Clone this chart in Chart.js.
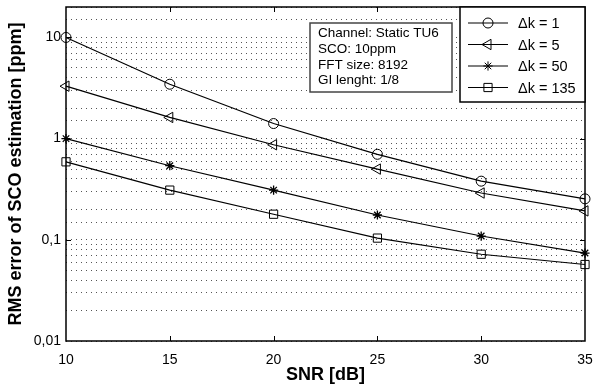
<!DOCTYPE html>
<html lang="en">
<head>
<meta charset="UTF-8">
<title>RMS error of SCO estimation</title>
<script src="https://cdn.jsdelivr.net/npm/chart.js@4.4.0/dist/chart.umd.min.js"></script>
<style>
  body { margin: 0; background: #fff; }
  canvas { display: block; }
</style>
</head>
<body>
<canvas id="scoChart" width="594" height="390"></canvas>
<script>
// SNR points in dB
const snr = [10, 15, 20, 25, 30, 35];

// RMS error of the SCO estimate [ppm], one array per pilot spacing
const dk1 = [10, 3.45, 1.41, 0.70, 0.38, 0.254];
const dk5 = [3.3, 1.62, 0.87, 0.50, 0.29, 0.193];
const dk50 = [1.0, 0.54, 0.31, 0.176, 0.109, 0.074];
const dk135 = [0.59, 0.31, 0.179, 0.104, 0.072, 0.057];

const seriesLabels = ['Δk = 1', 'Δk = 5', 'Δk = 50', 'Δk = 135'];
const xTicks = [10, 15, 20, 25, 30, 35];
const yTickValues = [0.01, 0.1, 1, 10];
const yTickText = ['0,01', '0,1', '1', '10'];
const infoLines = ['Channel: Static TU6', 'SCO: 10ppm', 'FFT size: 8192', 'GI lenght: 1/8'];

const FONT = "'Liberation Sans', Arial, Helvetica, sans-serif";

const series = [dk1, dk5, dk50, dk135];
const markerStyle = ['circle', 'triangle', 'star', 'rect'];
const markerRot = [0, -90, 0, 0];
const markerSize = [5, 6, 4.6, 5.8];

// frame, inward ticks, info box and legend
const overlay = {
    id: 'overlay',
    afterDraw(chart) {
        const ctx = chart.ctx;
        const ca = chart.chartArea;
        const xs = chart.scales.x, ys = chart.scales.y;
        ctx.save();

        ctx.strokeStyle = '#000';
        ctx.lineWidth = 1;
        ctx.beginPath();
        xTicks.slice(1, -1).forEach(v => {
            const px = Math.round(xs.getPixelForValue(v)) + 0.5;
            ctx.moveTo(px, ca.bottom); ctx.lineTo(px, ca.bottom - 5);
            ctx.moveTo(px, ca.top); ctx.lineTo(px, ca.top + 5);
        });
        yTickValues.slice(1).forEach(v => {
            const py = Math.round(ys.getPixelForValue(v)) + 0.5;
            ctx.moveTo(ca.left, py); ctx.lineTo(ca.left + 5, py);
            ctx.moveTo(ca.right, py); ctx.lineTo(ca.right - 5, py);
        });
        ctx.stroke();

        ctx.lineWidth = 1.5;
        ctx.strokeRect(ca.left, ca.top, ca.right - ca.left, ca.bottom - ca.top);

        // parameter box
        const bx = 310, by = 23, bw = 142, bh = 69;
        ctx.fillStyle = '#fff';
        ctx.fillRect(bx, by, bw, bh);
        ctx.strokeStyle = '#444';
        ctx.lineWidth = 1.5;
        ctx.strokeRect(bx, by, bw, bh);
        ctx.fillStyle = '#000';
        ctx.font = '13.5px ' + FONT;
        ctx.textBaseline = 'middle';
        ctx.textAlign = 'left';
        infoLines.forEach((t, i) => ctx.fillText(t, bx + 8, by + 10.5 + i * 15.7));

        // legend
        const lx = 460, ly = ca.top, lw = ca.right - 460, lh = 95;
        ctx.fillStyle = '#fff';
        ctx.fillRect(lx, ly, lw, lh);
        ctx.strokeStyle = '#000';
        ctx.lineWidth = 1.5;
        ctx.strokeRect(lx, ly, lw, lh);
        ctx.font = '14.5px ' + FONT;
        chart.data.datasets.forEach((ds, i) => {
            const y = ly + 16 + i * 21.5;
            ctx.strokeStyle = '#000';
            ctx.lineWidth = 1.2;
            ctx.beginPath();
            ctx.moveTo(lx + 8, y); ctx.lineTo(lx + 48, y);
            ctx.stroke();
            ctx.fillStyle = 'rgba(0,0,0,0)';
            ctx.lineWidth = 1;
            Chart.helpers.drawPoint(ctx, {
                pointStyle: ds.pointStyle, rotation: ds.pointRotation,
                radius: ds.pointRadius, borderWidth: 1
            }, lx + 28, y);
            ctx.fillStyle = '#000';
            ctx.fillText(ds.label, lx + 58, y + 1);
        });
        ctx.restore();
    }
};

const ctx = document.getElementById('scoChart').getContext('2d');
new Chart(ctx, {
    type: 'line',
    data: {
        datasets: series.map((vals, i) => ({
            label: seriesLabels[i],
            data: vals.map((v, j) => ({ x: snr[j], y: v })),
            borderColor: '#000',
            borderWidth: 1.2,
            pointStyle: markerStyle[i],
            pointRotation: markerRot[i],
            pointRadius: markerSize[i],
            pointBorderColor: '#000',
            pointBackgroundColor: 'rgba(0,0,0,0)',
            pointBorderWidth: i === 2 ? 1.3 : 1,
            tension: 0,
            fill: false,
            clip: false
        }))
    },
    options: {
        responsive: false,
        animation: false,
        devicePixelRatio: 1,
        layout: { padding: { top: 7, right: 9, left: 0, bottom: 0 } },
        plugins: { legend: { display: false }, tooltip: { enabled: false } },
        scales: {
            x: {
                type: 'linear',
                min: 10,
                max: 35,
                afterFit: s => { s.height = 49; s.paddingLeft = 0; s.paddingRight = 0; },
                afterBuildTicks: s => { s.ticks = xTicks.map(v => ({ value: v })); },
                ticks: { color: '#000', font: { family: FONT, size: 14 }, padding: 3, maxRotation: 0 },
                grid: { display: false },
                border: { display: false },
                title: {
                    display: true, text: 'SNR [dB]', color: '#000',
                    font: { family: FONT, size: 18, weight: 'bold' },
                    padding: { top: 0, bottom: 4 }
                }
            },
            y: {
                type: 'logarithmic',
                min: 0.01,
                max: 20,
                afterFit: s => { s.width = 66; s.paddingTop = 0; s.paddingBottom = 0; },
                ticks: {
                    autoSkip: false,
                    color: '#000',
                    font: { family: FONT, size: 14 },
                    padding: 5,
                    callback: v => {
                        const k = yTickValues.findIndex(t => Math.abs(v - t) / t < 1e-6);
                        return k < 0 ? '' : yTickText[k];
                    }
                },
                grid: { color: '#555', lineWidth: 1, drawTicks: false },
                border: { display: false, dash: [1, 4] },
                title: {
                    display: true, text: 'RMS error of SCO estimation [ppm]', color: '#000',
                    font: { family: FONT, size: 18, weight: 'bold' },
                    padding: { top: 5, bottom: 0 }
                }
            }
        }
    },
    plugins: [overlay]
});
</script>
</body>
</html>
